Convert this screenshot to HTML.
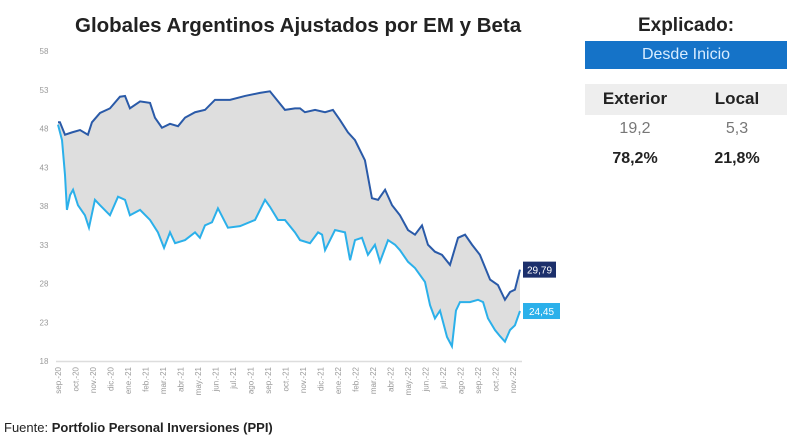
<!DOCTYPE html>
<html><head><meta charset="utf-8"><style>
body{margin:0;background:#fff;font-family:"Liberation Sans",sans-serif;}
#wrap{position:relative;width:800px;height:447px;overflow:hidden;}
.t{position:absolute;white-space:nowrap;}
</style></head><body>
<div id="wrap">
<div class="t" style="left:75px;top:14px;font-size:20.5px;font-weight:bold;color:#222;">Globales Argentinos Ajustados por EM y Beta</div>
<svg id="chart" width="800" height="447" style="position:absolute;left:0;top:0"></svg>
<div class="t" style="left:585px;width:202px;text-align:center;top:15px;font-size:19px;font-weight:bold;color:#222;">Explicado:</div>
<div class="t" style="left:585px;top:41px;width:202px;height:28px;background:#1573c8;color:#d8ecff;font-size:16px;text-align:center;line-height:28px;">Desde Inicio</div>
<div style="position:absolute;left:585px;top:84px;width:202px;height:31px;background:#eeeeee;"></div>
<div class="t" style="left:585px;width:100px;text-align:center;top:89px;font-size:17px;font-weight:bold;color:#222;">Exterior</div>
<div class="t" style="left:687px;width:100px;text-align:center;top:89px;font-size:17px;font-weight:bold;color:#222;">Local</div>
<div class="t" style="left:585px;width:100px;text-align:center;top:120px;font-size:16px;color:#777;">19,2</div>
<div class="t" style="left:687px;width:100px;text-align:center;top:120px;font-size:16px;color:#777;">5,3</div>
<div class="t" style="left:585px;width:100px;text-align:center;top:150px;font-size:16px;font-weight:bold;color:#222;">78,2%</div>
<div class="t" style="left:687px;width:100px;text-align:center;top:150px;font-size:16px;font-weight:bold;color:#222;">21,8%</div>
<div class="t" style="left:4px;top:420px;font-size:13px;color:#222;">Fuente: <b>Portfolio Personal Inversiones (PPI)</b></div>
</div>
<script>
const months=["sep.-20","oct.-20","nov.-20","dic.-20","ene.-21","feb.-21","mar.-21","abr.-21","may.-21","jun.-21","jul.-21","ago.-21","sep.-21","oct.-21","nov.-21","dic.-21","ene.-22","feb.-22","mar.-22","abr.-22","may.-22","jun.-22","jul.-22","ago.-22","sep.-22","oct.-22","nov.-22"];
const yTicks=[18,23,28,33,38,43,48,53,58];
const upperT=[0,.11,.4,.8,1.26,1.71,1.94,2.4,2.97,3.54,3.83,4.11,4.69,5.26,5.54,5.94,6.4,6.86,7.26,7.83,8.4,8.97,9.83,10.69,11.54,12.11,12.97,13.54,13.83,14.11,14.69,15.26,15.71,16.11,16.57,16.97,17.54,17.94,18.29,18.69,19.09,19.54,20,20.4,20.8,21.14,21.54,21.94,22.4,22.86,23.26,23.66,24.11,24.69,25.14,25.54,25.83,26.11,26.4];
const upperV=[48.8,48.8,47.2,47.5,47.8,47.2,48.8,50,50.6,52.1,52.2,50.6,51.5,51.3,49.4,48.1,48.6,48.3,49.4,50.1,50.4,51.7,51.7,52.2,52.6,52.8,50.4,50.6,50.6,50.1,50.4,50.1,50.4,49.1,47.5,46.5,43.9,39,38.8,40.1,38.1,36.8,34.9,34.3,35.5,33,32.1,31.7,30.4,33.9,34.3,33,31.7,28.5,27.8,25.9,26.9,27.2,29.79];
const lowerT=[0,.23,.4,.51,.69,.86,1.14,1.54,1.77,2.11,2.4,2.97,3.43,3.83,4.11,4.69,5.26,5.71,6.06,6.4,6.69,7.26,7.83,8.11,8.4,8.8,9.14,9.71,10.4,11.26,11.83,12.11,12.57,12.97,13.54,13.83,14.4,14.86,15.09,15.26,15.83,16.4,16.69,16.97,17.37,17.71,18.11,18.4,18.86,19.26,19.54,20,20.4,20.97,21.26,21.54,21.83,22.23,22.51,22.74,22.97,23.54,24,24.29,24.57,24.97,25.26,25.54,25.83,26.11,26.4];
const lowerV=[48.5,46.5,42,37.5,39.4,40.1,38.1,36.8,35.2,38.8,38.1,36.8,39.2,38.8,36.8,37.5,36.2,34.6,32.6,34.6,33.2,33.6,34.6,33.9,35.5,35.9,37.7,35.2,35.4,36.2,38.8,37.9,36.2,36.2,34.6,33.6,33.2,34.6,34.3,32.3,34.9,34.6,31,33.6,33.9,31.7,33,30.8,33.6,33,32.3,30.8,30,28.2,25.2,23.5,24.5,21.1,19.9,24.5,25.6,25.6,25.9,25.6,23.5,22,21.2,20.5,22,22.6,24.45];
const upperLabel="29,79", lowerLabel="24,45";
const X=m=>58+m*17.5, Y=v=>361-(v-18)*7.75;
const svg=document.getElementById('chart'),NS="http://www.w3.org/2000/svg";
function mk(t,a,p){const e=document.createElementNS(NS,t);for(const k in a)e.setAttribute(k,a[k]);(p||svg).appendChild(e);return e;}
yTicks.forEach(v=>{const e=mk('text',{x:44,y:Y(v)+3,'font-size':8,fill:'#999','text-anchor':'middle'});e.textContent=v;

});
const ax=mk('line',{x1:56,x2:522,y1:361.5,y2:361.5,stroke:'#ddd','stroke-width':1.5});


months.forEach((m,i)=>{const x=X(i)+3,y=367;const e=mk('text',{x:x,y:y,'font-size':8,fill:'#999','text-anchor':'end',transform:`rotate(-90 ${x} ${y})`});e.textContent=m;

});
let pts=upperT.map((t,i)=>X(t)+','+Y(upperV[i]));
for(let i=lowerT.length-1;i>=0;i--)pts.push(X(lowerT[i])+','+Y(lowerV[i]));
const area=mk('polygon',{points:pts.join(' '),fill:'#dedede'});


const l1=mk('polyline',{points:lowerT.map((t,i)=>X(t)+','+Y(lowerV[i])).join(' '),fill:'none',stroke:'#2bb0ea','stroke-width':2});


const l2=mk('polyline',{points:upperT.map((t,i)=>X(t)+','+Y(upperV[i])).join(' '),fill:'none',stroke:'#2a5aa8','stroke-width':2});


function tag(v,txt,bg,name){const x=X(upperT[upperT.length-1])+3,y=Y(v);
const r=mk('rect',{x:x,y:y-8,width:txt===upperLabel?33:37,height:16,fill:bg});


const t=mk('text',{x:x+(txt===upperLabel?16.5:18.5),y:y+4,'font-size':10,fill:'#fff','text-anchor':'middle'});t.textContent=txt;}
tag(upperV[upperV.length-1],upperLabel,'#1c2f6b','exterior-end-label');
tag(lowerV[lowerV.length-1],lowerLabel,'#2bb0ea','local-end-label');
</script>
</body></html>
